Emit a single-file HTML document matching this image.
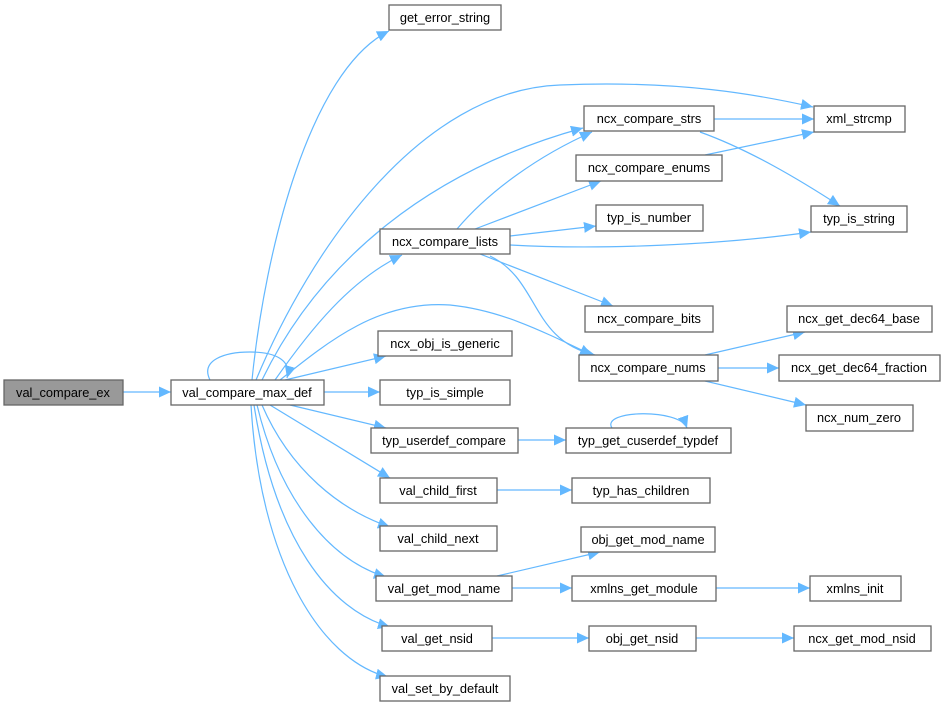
<!DOCTYPE html>
<html><head><meta charset="utf-8"><style>
body{margin:0;background:#fff;width:945px;height:707px;overflow:hidden}
svg{display:block}
text{font-family:"Liberation Sans",Arial,sans-serif;font-size:12.8px;fill:#000;text-anchor:middle}
.n{fill:#fff;stroke:#666;stroke-width:1.3}
.e{fill:none;stroke:#63b8ff;stroke-width:1.2}
</style></head><body>
<svg width="945" height="707" viewBox="0 0 945 707">
<defs><marker id="a" markerUnits="userSpaceOnUse" markerWidth="13" markerHeight="11" refX="12" refY="5.5" orient="auto"><path d="M0,0 L12,5.5 L0,11 z" fill="#63b8ff"/></marker></defs>
<g class="e" marker-end="url(#a)">
<path d="M123,392 L171,392"/>
<path d="M252,380 C265,250 310,70 389,31"/>
<path d="M256,380 C310,250 420,90 560,85 C680,80 760,95 813,107"/>
<path d="M262,380 C320,260 430,170 583,128"/>
<path d="M275,380 C310,330 350,280 402,255"/>
<path d="M280,380 C330,340 380,300 450,305 C500,310 540,330 592,355"/>
<path d="M285,380 L386,356"/>
<path d="M324,392 L380,392"/>
<path d="M290,405 L386,428"/>
<path d="M270,405 L390,478"/>
<path d="M262,405 C290,470 340,510 390,527"/>
<path d="M257,405 C280,500 330,560 386,577"/>
<path d="M254,405 C275,540 330,610 390,627"/>
<path d="M251,405 C260,560 320,660 388,677"/>
<path d="M210,380 C200,360 225,352 250,352 C275,352 292,360 287,378"/>
<path d="M457,229 C490,190 540,155 592,132"/>
<path d="M475,229 L601,181"/>
<path d="M510,236 L596,226"/>
<path d="M510,245 C600,250 720,245 811,232"/>
<path d="M480,254 L613,306"/>
<path d="M490,256 C540,280 530,340 595,355"/>
<path d="M714,119 L814,119"/>
<path d="M700,132 C750,150 800,180 840,206"/>
<path d="M705,155 L814,132"/>
<path d="M705,355 L805,332"/>
<path d="M718,368 L779,368"/>
<path d="M705,381 L806,405"/>
<path d="M518,440 L566,440"/>
<path d="M612,428 C600,410 680,408 687,428"/>
<path d="M497,490 L572,490"/>
<path d="M497,576 L600,552"/>
<path d="M512,588 L572,588"/>
<path d="M716,588 L810,588"/>
<path d="M492,638 L589,638"/>
<path d="M696,638 L794,638"/>
</g>
<g>
<rect x="4" y="380" width="119" height="25" fill="#999" stroke="#666" stroke-width="1.3"/><text x="63" y="397">val_compare_ex</text>
<rect class="n" x="171" y="380" width="153" height="25"/><text x="247" y="397">val_compare_max_def</text>
<rect class="n" x="389" y="5" width="112" height="25"/><text x="445" y="22">get_error_string</text>
<rect class="n" x="380" y="229" width="130" height="25"/><text x="445" y="246">ncx_compare_lists</text>
<rect class="n" x="378" y="331" width="134" height="25"/><text x="445" y="348">ncx_obj_is_generic</text>
<rect class="n" x="380" y="380" width="130" height="25"/><text x="445" y="397">typ_is_simple</text>
<rect class="n" x="371" y="428" width="147" height="25"/><text x="444" y="445">typ_userdef_compare</text>
<rect class="n" x="380" y="478" width="117" height="25"/><text x="438" y="495">val_child_first</text>
<rect class="n" x="380" y="526" width="117" height="25"/><text x="438" y="543">val_child_next</text>
<rect class="n" x="376" y="576" width="136" height="25"/><text x="444" y="593">val_get_mod_name</text>
<rect class="n" x="382" y="626" width="110" height="25"/><text x="437" y="643">val_get_nsid</text>
<rect class="n" x="380" y="676" width="130" height="25"/><text x="445" y="693">val_set_by_default</text>
<rect class="n" x="584" y="106" width="130" height="25"/><text x="649" y="123">ncx_compare_strs</text>
<rect class="n" x="576" y="155" width="146" height="26"/><text x="649" y="172">ncx_compare_enums</text>
<rect class="n" x="596" y="205" width="107" height="26"/><text x="649" y="222">typ_is_number</text>
<rect class="n" x="585" y="306" width="128" height="26"/><text x="649" y="323">ncx_compare_bits</text>
<rect class="n" x="579" y="355" width="139" height="26"/><text x="648" y="372">ncx_compare_nums</text>
<rect class="n" x="814" y="106" width="91" height="26"/><text x="859" y="123">xml_strcmp</text>
<rect class="n" x="811" y="206" width="96" height="26"/><text x="859" y="223">typ_is_string</text>
<rect class="n" x="787" y="306" width="145" height="26"/><text x="859" y="323">ncx_get_dec64_base</text>
<rect class="n" x="779" y="355" width="161" height="26"/><text x="859" y="372">ncx_get_dec64_fraction</text>
<rect class="n" x="806" y="405" width="107" height="26"/><text x="859" y="422">ncx_num_zero</text>
<rect class="n" x="566" y="428" width="165" height="25"/><text x="648" y="445">typ_get_cuserdef_typdef</text>
<rect class="n" x="572" y="478" width="138" height="25"/><text x="641" y="495">typ_has_children</text>
<rect class="n" x="581" y="527" width="134" height="25"/><text x="648" y="544">obj_get_mod_name</text>
<rect class="n" x="572" y="576" width="144" height="25"/><text x="644" y="593">xmlns_get_module</text>
<rect class="n" x="810" y="576" width="91" height="25"/><text x="855" y="593">xmlns_init</text>
<rect class="n" x="589" y="626" width="107" height="25"/><text x="642" y="643">obj_get_nsid</text>
<rect class="n" x="794" y="626" width="137" height="25"/><text x="862" y="643">ncx_get_mod_nsid</text>
</g>
</svg>
</body></html>
